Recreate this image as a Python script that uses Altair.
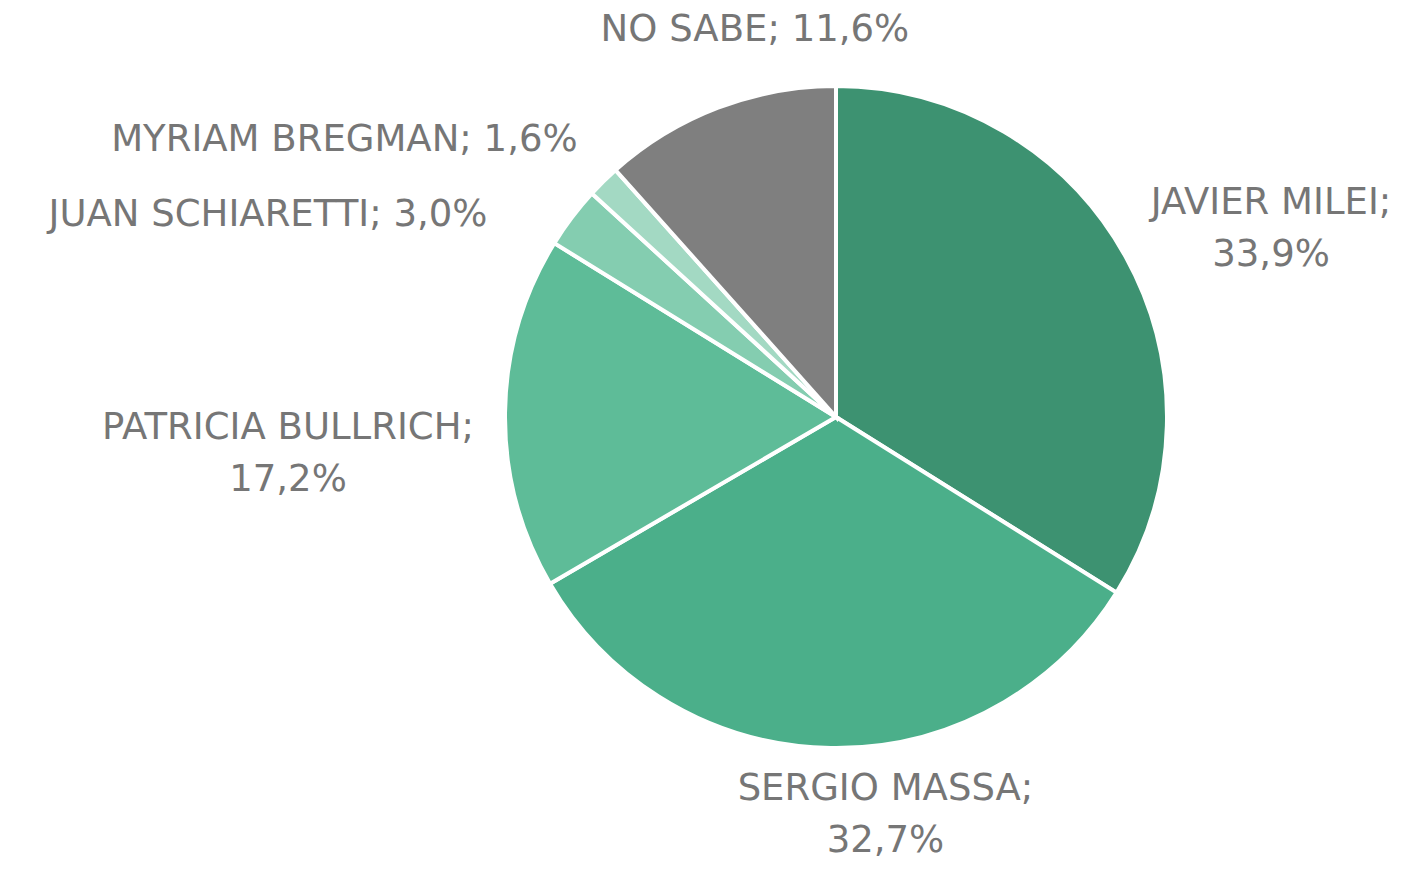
import altair as alt
import pandas as pd

names = ["JAVIER MILEI", "SERGIO MASSA", "PATRICIA BULLRICH", "JUAN SCHIARETTI", "MYRIAM BREGMAN", "NO SABE"]
values = [33.9, 32.7, 17.2, 3.0, 1.6, 11.6]
colors = ["#3d9271", "#4baf8a", "#5ebc98", "#84cdb0", "#a3d9c3", "#7f7f7f"]
two_lines = [True, True, True, False, False, False]

labels = [
    f"{n};" + ("\n" if b else " ") + f"{v:.1f}".replace(".", ",") + "%"
    for n, v, b in zip(names, values, two_lines)
]

df = pd.DataFrame({"name": names, "value": values, "order": list(range(len(names))), "label": labels})

CX, CY, R = 828, 409, 331
LR = R + 20

base = alt.Chart(df)

pie = base.mark_arc(radius=R, stroke="white", strokeWidth=4).encode(
    theta=alt.Theta("value:Q", stack=True),
    color=alt.Color("name:N", scale=alt.Scale(domain=names, range=colors), legend=None),
    order=alt.Order("order:Q"),
    x=alt.value(CX),
    y=alt.value(CY),
)

lab_base = base.transform_joinaggregate(total="sum(value)").transform_window(
    cum="sum(value)", sort=[alt.SortField("order")]
).transform_calculate(
    mid="(datum.cum - datum.value/2) / datum.total * 2 * PI",
).transform_calculate(
    lx=f"{CX} + {LR} * sin(datum.mid)",
    ly=f"{CY} - {LR} * cos(datum.mid)",
)

# label offsets from the outside anchor point of each slice
offsets = {
    "JAVIER MILEI": (128, -44),
    "SERGIO MASSA": (55, 21),
    "PATRICIA BULLRICH": (-197, 15),
    "JUAN SCHIARETTI": (-288, 10),
    "MYRIAM BREGMAN": (-245, -27),
    "NO SABE": (44, -59),
}

layers = [pie]
for n in names:
    dx, dy = offsets[n]
    layers.append(
        lab_base.transform_filter(alt.datum.name == n).mark_text(
            align="center", baseline="middle", font="DejaVu Sans", fontSize=37,
            color="#767676", lineBreak="\n", lineHeight=52, dx=dx, dy=dy,
        ).encode(
            x=alt.X("lx:Q", scale=None),
            y=alt.Y("ly:Q", scale=None),
            text="label:N",
        )
    )

chart = alt.layer(*layers).properties(
    width=1406, height=853, padding=0,
    autosize=alt.AutoSizeParams(type="fit", contains="padding"),
).configure_view(stroke=None)

chart.save("out.html", embed_options={"renderer": "svg", "actions": False})
